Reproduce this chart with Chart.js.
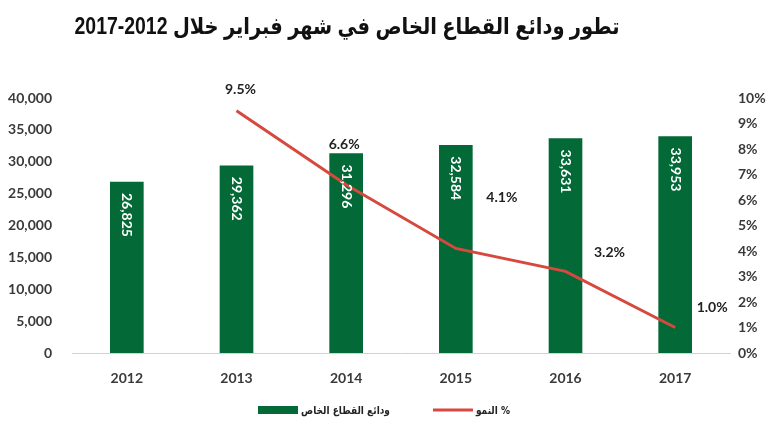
<!DOCTYPE html>
<html lang="ar">
<head>
<meta charset="utf-8">
<script src="https://cdn.jsdelivr.net/npm/chart.js@4"></script>
<style>
  html, body { margin: 0; padding: 0; background: #fff; }
  #wrap { width: 770px; height: 436px; position: relative; }
</style>
</head>
<body>
<div id="wrap"><canvas id="chart"></canvas></div>
<script>
// ── data ─────────────────────────────────────────────────────────────────────
const years = ['2012', '2013', '2014', '2015', '2016', '2017'];
const deposits = [26825, 29362, 31296, 32584, 33631, 33953];
const growth = [null, 9.5, 6.6, 4.1, 3.2, 1.0];

const titleText = 'تطور ودائع القطاع الخاص في شهر فبراير خلال 2012-2017';
const depositsLabel = 'ودائع القطاع الخاص';
const growthLabel = '% النمو';

// label offsets for the growth values (px from the point)
const growthLabelOffsets = [null, [4, -21], [-2, -40], [46, -51], [44, -19], [37, -20]];

const GREEN = '#036a37';
const RED = '#d6493e';
const TICK = '#3a3a3a';
const tickFont = { family: 'Lato, "Open Sans", sans-serif', size: 14, weight: 'bold' };

// ── plugins ──────────────────────────────────────────────────────────────────
const titlePlugin = {
  id: 'rtlTitle',
  afterDraw(chart) {
    const ctx = chart.ctx;
    ctx.save();
    ctx.direction = 'rtl';
    ctx.font = 'bold 23px "Liberation Sans", "DejaVu Sans", sans-serif';
    ctx.fillStyle = '#111';
    ctx.textAlign = 'center';
    ctx.textBaseline = 'middle';
    // squeeze the text to the narrow look of the original title
    const w = ctx.measureText(titleText).width;
    ctx.translate(347, 28);
    ctx.scale(545 / w, 1);
    ctx.fillText(titleText, 0, 0);
    ctx.restore();
  },
};

// legend drawn by hand so the gaps match the original
const legendPlugin = {
  id: 'rtlLegend',
  afterDraw(chart) {
    const ctx = chart.ctx;
    const items = [
      { text: depositsLabel, color: GREEN, kind: 'box' },
      { text: growthLabel, color: RED, kind: 'line' },
    ];
    const markW = 40, gapText = 3, gapItem = 43, y = 410, squeeze = 0.82;
    ctx.save();
    ctx.direction = 'rtl';
    ctx.font = 'bold 11px "DejaVu Sans", sans-serif';
    ctx.textBaseline = 'middle';
    ctx.textAlign = 'left';
    const widths = items.map((it) => ctx.measureText(it.text).width * squeeze);
    const total = widths.reduce((a, b) => a + b, 0) + items.length * (markW + gapText) + gapItem;
    let x = 384 - total / 2;
    items.forEach((it, i) => {
      ctx.fillStyle = it.color;
      ctx.strokeStyle = it.color;
      if (it.kind === 'box') {
        ctx.fillRect(x, y - 4, markW, 8);
      } else {
        ctx.lineWidth = 3;
        ctx.beginPath();
        ctx.moveTo(x, y);
        ctx.lineTo(x + markW, y);
        ctx.stroke();
      }
      x += markW + gapText;
      ctx.save();
      ctx.translate(x, y + 1);
      ctx.scale(squeeze, 1);
      ctx.fillStyle = '#222';
      ctx.fillText(it.text, 0, 0);
      ctx.restore();
      x += widths[i] + gapItem;
    });
    ctx.restore();
  },
};

const valueLabels = {
  id: 'valueLabels',
  afterDatasetsDraw(chart) {
    const ctx = chart.ctx;
    ctx.save();

    // bar values, rotated, inside the top of each bar
    const barMeta = chart.getDatasetMeta(1);
    ctx.font = 'bold 14px Lato, "Open Sans", sans-serif';
    ctx.fillStyle = '#fff';
    ctx.textAlign = 'left';
    ctx.textBaseline = 'middle';
    barMeta.data.forEach((bar, i) => {
      ctx.save();
      ctx.translate(bar.x, bar.y + 11);
      ctx.rotate(Math.PI / 2);
      ctx.fillText(deposits[i].toLocaleString('en-US'), 0, 0);
      ctx.restore();
    });

    // growth values
    const lineMeta = chart.getDatasetMeta(0);
    ctx.fillStyle = '#222';
    ctx.textAlign = 'center';
    lineMeta.data.forEach((pt, i) => {
      if (growth[i] == null) return;
      const [dx, dy] = growthLabelOffsets[i];
      ctx.fillText(growth[i].toFixed(1) + '%', pt.x + dx, pt.y + dy);
    });
    ctx.restore();
  },
};

// ── chart ────────────────────────────────────────────────────────────────────
new Chart(document.getElementById('chart'), {
  data: {
    labels: years,
    datasets: [
      {
        type: 'line',
        label: growthLabel,
        data: growth,
        yAxisID: 'y1',
        borderColor: RED,
        backgroundColor: RED,
        borderWidth: 3,
        pointRadius: 0,
        tension: 0,
      },
      {
        type: 'bar',
        label: depositsLabel,
        data: deposits,
        yAxisID: 'y',
        backgroundColor: GREEN,
        barThickness: 33,
      },
    ],
  },
  options: {
    responsive: true,
    maintainAspectRatio: false,
    animation: false,
    layout: { padding: { top: 98, bottom: 51, left: 0, right: 0 } },
    plugins: {
      title: { display: false },
      tooltip: { enabled: false },
      legend: { display: false },
    },
    scales: {
      x: {
        grid: { display: false },
        border: { display: true, color: '#e2cec6', width: 1, dash: [2, 1] },
        ticks: { color: TICK, font: tickFont, padding: 9 },
        afterFit: (s) => { s.height = 32; },
      },
      y: {
        position: 'left',
        min: 0,
        max: 40000,
        grid: { display: false },
        border: { display: false },
        ticks: {
          stepSize: 5000,
          color: TICK,
          font: tickFont,
          padding: 12,
          callback: (v) => v.toLocaleString('en-US'),
        },
        afterFit: (s) => { s.width = 72; },
      },
      y1: {
        position: 'right',
        min: 0,
        max: 10,
        grid: { display: false },
        border: { display: false },
        ticks: {
          stepSize: 1,
          color: TICK,
          font: tickFont,
          padding: 0,
          callback: (v) => v + '%',
        },
        afterFit: (s) => { s.width = 40; },
      },
    },
  },
  plugins: [titlePlugin, legendPlugin, valueLabels],
});
</script>
</body>
</html>
